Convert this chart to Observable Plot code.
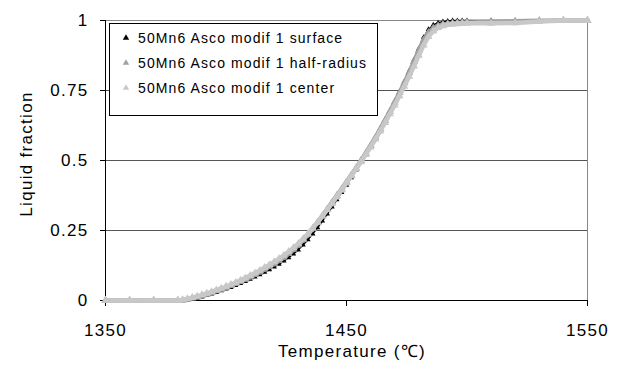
<!DOCTYPE html>
<html>
<head>
<meta charset="utf-8">
<script src="https://cdn.jsdelivr.net/npm/d3@7"></script>
<script src="https://cdn.jsdelivr.net/npm/@observablehq/plot@0.6"></script>
<style>
  html, body { margin: 0; padding: 0; background: #fff; }
  #chart { width: 618px; height: 367px; }
</style>
</head>
<body>
<div id="chart"></div>
<script>
// ---- data ----
const temps = [1350, 1360, 1370, 1380, 1382, 1384, 1386, 1388, 1390, 1392, 1394, 1396, 1398,
  1400, 1402, 1404, 1406, 1408, 1410, 1412, 1414, 1416, 1418, 1420, 1422, 1424, 1426, 1428,
  1430, 1432, 1434, 1436, 1438, 1440, 1442, 1444, 1446, 1448, 1450, 1452, 1454, 1456, 1458,
  1460, 1462, 1464, 1466, 1468, 1470, 1472, 1474, 1476, 1478, 1480, 1482, 1484, 1486, 1488,
  1490, 1492, 1494, 1496, 1498, 1500, 1510, 1520, 1530, 1540, 1550];

const surface = [0, 0, 0, 0, 0, 0, 0.004, 0.008, 0.013, 0.018, 0.023, 0.029, 0.035,
  0.041, 0.047, 0.054, 0.061, 0.068, 0.076, 0.084, 0.092, 0.101, 0.11, 0.12, 0.13, 0.141, 0.153, 0.166,
  0.181, 0.198, 0.217, 0.238, 0.26, 0.284, 0.309, 0.334, 0.36, 0.386, 0.412, 0.439, 0.466, 0.494, 0.522,
  0.551, 0.581, 0.612, 0.644, 0.677, 0.711, 0.746, 0.782, 0.82, 0.86, 0.9, 0.94, 0.968, 0.984, 0.992,
  0.996, 0.998, 1, 1, 1, 1, 1, 1, 1, 1, 1];

const halfRadius = [0, 0, 0, 0, 0, 0.004, 0.008, 0.012, 0.017, 0.022, 0.028, 0.034, 0.04,
  0.046, 0.053, 0.06, 0.067, 0.075, 0.083, 0.092, 0.101, 0.111, 0.121, 0.131, 0.142, 0.154, 0.167, 0.182,
  0.198, 0.216, 0.236, 0.257, 0.279, 0.302, 0.326, 0.35, 0.374, 0.398, 0.423, 0.448, 0.473, 0.499, 0.525,
  0.553, 0.582, 0.612, 0.643, 0.675, 0.708, 0.742, 0.777, 0.814, 0.853, 0.893, 0.93, 0.957, 0.973, 0.981,
  0.986, 0.988, 0.99, 0.991, 0.992, 0.993, 0.995, 0.997, 0.999, 1, 1];

const center = [0, 0, 0, 0, 0.002, 0.006, 0.01, 0.015, 0.02, 0.025, 0.031, 0.037, 0.043,
  0.05, 0.057, 0.064, 0.072, 0.08, 0.089, 0.098, 0.107, 0.117, 0.127, 0.138, 0.149, 0.161, 0.174, 0.188,
  0.203, 0.22, 0.238, 0.258, 0.279, 0.301, 0.324, 0.347, 0.371, 0.395, 0.42, 0.445, 0.47, 0.495, 0.521,
  0.548, 0.576, 0.605, 0.635, 0.666, 0.698, 0.731, 0.765, 0.8, 0.837, 0.875, 0.912, 0.942, 0.962, 0.974,
  0.981, 0.985, 0.987, 0.988, 0.989, 0.99, 0.99, 0.991, 0.996, 1, 1];

const seriesNames = ["50Mn6 Asco modif 1 surface", "50Mn6 Asco modif 1 half-radius", "50Mn6 Asco modif 1 center"];
const seriesValues = [surface, halfRadius, center];
const seriesColors = ["#000000", "#a0a0a0", "#c8c8c8"];

const xTicks = [1350, 1450, 1550];
const yTicks = [0, 0.25, 0.5, 0.75, 1];
const yGrid = [0.25, 0.5, 0.75];
const xTitle = "Temperature (\u2103)";
const yTitle = "Liquid fraction";

// ---- build table ----
const rows = seriesNames.flatMap((name, s) =>
  temps.map((t, i) => ({series: name, T: t, f: seriesValues[s][i]})));

const font = "'Liberation Sans', Arial, sans-serif";

const marks = [
  Plot.ruleY(yGrid, {stroke: "#555", strokeWidth: 1}),
  Plot.ruleY([1], {stroke: "#888", strokeWidth: 1}),
  Plot.ruleX([1550], {stroke: "#888", strokeWidth: 1}),
  Plot.ruleX([1350], {stroke: "#000", strokeWidth: 1}),
  Plot.ruleY([0], {stroke: "#000", strokeWidth: 1}),
  Plot.axisY({ticks: yTicks, tickSize: 5, tickPadding: 12, tickFormat: d => String(d), label: null}),
  Plot.axisX({ticks: xTicks, tickSize: 6, tickPadding: 17, tickFormat: d => String(d), label: null})
];
seriesNames.forEach((name, s) => {
  const data = rows.filter(r => r.series === name);
  marks.push(Plot.line(data, {x: "T", y: "f", stroke: seriesColors[s], strokeWidth: s === 0 ? 1.5 : 4.5}));
  marks.push(Plot.dot(data, {x: "T", y: "f", symbol: "triangle", r: s === 0 ? 2 : 3, fill: seriesColors[s], stroke: "none"}));
});

const chart = Plot.plot({
  width: 618,
  height: 367,
  marginLeft: 105,
  marginRight: 31,
  marginTop: 20,
  marginBottom: 67,
  x: {domain: [1350, 1550]},
  y: {domain: [0, 1]},
  style: {fontFamily: font, fontSize: "17px", letterSpacing: "1.3px", background: "#fff", color: "#000"},
  marks
});

const svg = d3.select(chart);
// axis titles
svg.append("text")
  .attr("x", 352).attr("y", 357)
  .attr("text-anchor", "middle")
  .style("font-size", "17px").style("letter-spacing", "1.3px")
  .attr("fill", "#000")
  .text(xTitle);
svg.append("text")
  .attr("transform", "translate(32,154) rotate(-90)")
  .attr("text-anchor", "middle")
  .style("font-size", "17px").style("letter-spacing", "1.3px")
  .attr("fill", "#000")
  .text(yTitle);

// legend
const lg = svg.append("g");
lg.append("rect")
  .attr("x", 109.5).attr("y", 23.5).attr("width", 268).attr("height", 92)
  .attr("fill", "#fff").attr("stroke", "#000").attr("stroke-width", 1);
seriesNames.forEach((name, s) => {
  const cy = 38 + s * 25;
  lg.append("path")
    .attr("d", d3.symbol(d3.symbolTriangle, 18)())
    .attr("transform", `translate(126,${cy})`)
    .attr("fill", seriesColors[s]);
  lg.append("text")
    .attr("x", 138).attr("y", cy + 5)
    .attr("text-anchor", "start")
    .style("font-size", "14px").style("letter-spacing", "1.1px")
    .attr("fill", "#000")
    .text(name);
});

document.getElementById("chart").appendChild(chart);
</script>
</body>
</html>
